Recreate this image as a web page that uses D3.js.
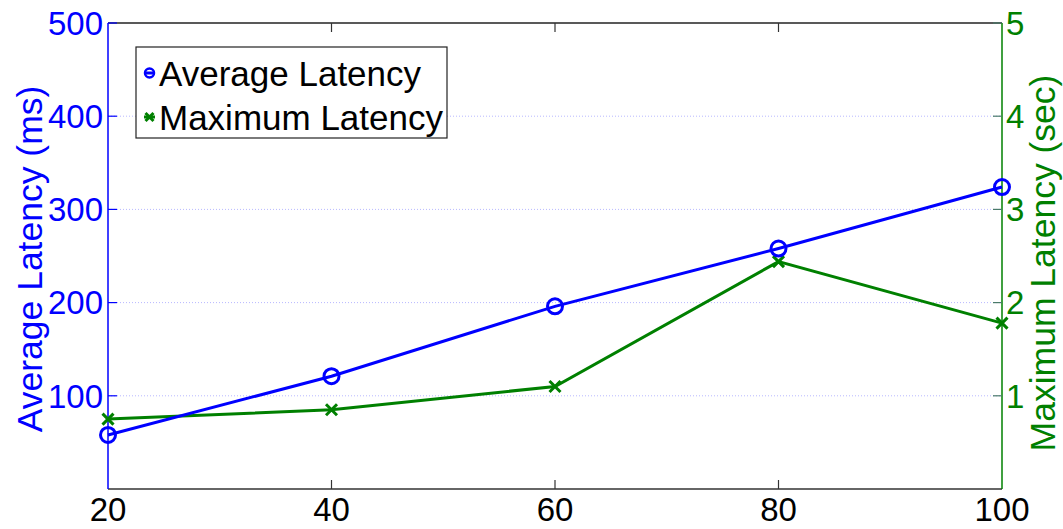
<!DOCTYPE html>
<html>
<head>
<meta charset="utf-8">
<script src="https://cdn.jsdelivr.net/npm/d3@7"></script>
<style>
  body { margin: 0; background: #fff; }
  text { font-family: "Liberation Sans", Arial, sans-serif; }
</style>
</head>
<body>
<svg id="chart" width="1063" height="529"></svg>
<script>
// data
const loads = [20, 40, 60, 80, 100];
const avgLatency = [58, 121, 196, 258, 324];      // ms, left axis
const maxLatency = [0.75, 0.85, 1.10, 2.44, 1.78]; // sec, right axis
const xTicks = [20, 40, 60, 80, 100];
const leftTicks = [100, 200, 300, 400, 500];
const rightTicks = [1, 2, 3, 4, 5];
const seriesNames = ['Average Latency', 'Maximum Latency'];

const blue = '#0000ff';
const green = '#008000';

const margin = {top: 23, right: 61, bottom: 40, left: 108};
const svg = d3.select('#chart');
const width = +svg.attr('width') - margin.left - margin.right;
const height = +svg.attr('height') - margin.top - margin.bottom;

const x = d3.scaleLinear().domain([20, 100]).range([0, width]);
const yL = d3.scaleLinear().domain([0, 500]).range([height, 0]);
const yR = d3.scaleLinear().domain([0, 5]).range([height, 0]);

const g = svg.append('g')
    .attr('transform', 'translate(' + margin.left + ',' + margin.top + ')');

// dotted grid
g.selectAll('.grid')
    .data(leftTicks.filter(d => d < 500))
    .enter().append('line')
    .attr('x1', 0).attr('x2', width)
    .attr('y1', d => yL(d)).attr('y2', d => yL(d))
    .attr('stroke', '#b8b8ff')
    .attr('stroke-width', 1)
    .attr('stroke-dasharray', '1,2');

// box: top and bottom
g.append('line').attr('x1', 0).attr('x2', width).attr('y1', 0).attr('y2', 0)
    .attr('stroke', '#222').attr('stroke-width', 1.5);
g.append('line').attr('x1', 0).attr('x2', width).attr('y1', height).attr('y2', height)
    .attr('stroke', '#333').attr('stroke-width', 1.5);

// x ticks (inside, bottom and top)
xTicks.slice(1, -1).forEach(t => {
  g.append('line').attr('x1', x(t)).attr('x2', x(t)).attr('y1', height).attr('y2', height - 9)
      .attr('stroke', '#333').attr('stroke-width', 1.2);
  g.append('line').attr('x1', x(t)).attr('x2', x(t)).attr('y1', 0).attr('y2', 9)
      .attr('stroke', '#333').attr('stroke-width', 1.2);
});

// x tick labels
g.selectAll('.xlab')
    .data(xTicks)
    .enter().append('text')
    .attr('x', d => x(d))
    .attr('y', height + 32)
    .attr('text-anchor', 'middle')
    .attr('font-size', 33)
    .attr('fill', '#000')
    .text(d => d);

// left axis
g.append('line').attr('x1', 0).attr('x2', 0).attr('y1', 0).attr('y2', height)
    .attr('stroke', blue).attr('stroke-width', 1.5);
g.selectAll('.ltick')
    .data(leftTicks)
    .enter().append('line')
    .attr('x1', 0).attr('x2', 9)
    .attr('y1', d => yL(d)).attr('y2', d => yL(d))
    .attr('stroke', blue).attr('stroke-width', 1.2);
g.selectAll('.llab')
    .data(leftTicks)
    .enter().append('text')
    .attr('x', -5)
    .attr('y', d => yL(d))
    .attr('dy', '0.36em')
    .attr('text-anchor', 'end')
    .attr('font-size', 33)
    .attr('fill', blue)
    .text(d => d);
svg.append('text')
    .attr('transform', 'translate(42,' + (margin.top + height / 2 + 3) + ') rotate(-90)')
    .attr('text-anchor', 'middle')
    .attr('font-size', 35.5)
    .attr('fill', blue)
    .text('Average Latency (ms)');

// right axis
g.append('line').attr('x1', width).attr('x2', width).attr('y1', 0).attr('y2', height)
    .attr('stroke', green).attr('stroke-width', 1.5);
g.selectAll('.rtick')
    .data(rightTicks)
    .enter().append('line')
    .attr('x1', width).attr('x2', width - 9)
    .attr('y1', d => yR(d)).attr('y2', d => yR(d))
    .attr('stroke', '#4a7a6a').attr('stroke-width', 1.2);
g.selectAll('.rlab')
    .data(rightTicks)
    .enter().append('text')
    .attr('x', width + 4)
    .attr('y', d => yR(d))
    .attr('dy', '0.36em')
    .attr('text-anchor', 'start')
    .attr('font-size', 33)
    .attr('fill', green)
    .text(d => d);
svg.append('text')
    .attr('transform', 'translate(1055,' + (margin.top + height / 2 + 7) + ') rotate(-90)')
    .attr('text-anchor', 'middle')
    .attr('font-size', 35.5)
    .attr('fill', green)
    .text('Maximum Latency (sec)');

// lines
const avgPts = loads.map((d, i) => [x(d), yL(avgLatency[i])]);
const maxPts = loads.map((d, i) => [x(d), yR(maxLatency[i])]);
const line = d3.line();

g.append('path').attr('d', line(maxPts))
    .attr('fill', 'none').attr('stroke', green).attr('stroke-width', 3);
g.append('path').attr('d', line(avgPts))
    .attr('fill', 'none').attr('stroke', blue).attr('stroke-width', 3);

function xMark(sel, s) {
  sel.append('path')
      .attr('d', 'M' + (-s) + ',' + (-s) + 'L' + s + ',' + s + 'M' + (-s) + ',' + s + 'L' + s + ',' + (-s))
      .attr('stroke', green).attr('stroke-width', 3).attr('fill', 'none');
}

maxPts.forEach(p => xMark(g.append('g').attr('transform', 'translate(' + p + ')'), 5.5));
g.selectAll('.avgpt')
    .data(avgPts)
    .enter().append('circle')
    .attr('cx', d => d[0]).attr('cy', d => d[1])
    .attr('r', 7.5)
    .attr('fill', 'none').attr('stroke', blue).attr('stroke-width', 3);

// legend
const lg = svg.append('g').attr('transform', 'translate(136,47)');
lg.append('rect').attr('width', 311).attr('height', 91)
    .attr('fill', '#fff').attr('stroke', '#222').attr('stroke-width', 1.2);
const rowY = [26, 70];
// average entry
lg.append('line').attr('x1', 8).attr('x2', 19).attr('y1', rowY[0]).attr('y2', rowY[0])
    .attr('stroke', blue).attr('stroke-width', 3);
lg.append('circle').attr('cx', 13.5).attr('cy', rowY[0]).attr('r', 4.5)
    .attr('fill', 'none').attr('stroke', blue).attr('stroke-width', 2.5);
// maximum entry
lg.append('line').attr('x1', 8).attr('x2', 19).attr('y1', rowY[1]).attr('y2', rowY[1])
    .attr('stroke', green).attr('stroke-width', 3);
xMark(lg.append('g').attr('transform', 'translate(13.5,' + rowY[1] + ')'), 4);
lg.selectAll('.ltxt')
    .data(seriesNames)
    .enter().append('text')
    .attr('x', 23)
    .attr('y', (d, i) => rowY[i])
    .attr('dy', '0.36em')
    .attr('font-size', 35)
    .attr('fill', '#000')
    .text(d => d);
</script>
</body>
</html>
